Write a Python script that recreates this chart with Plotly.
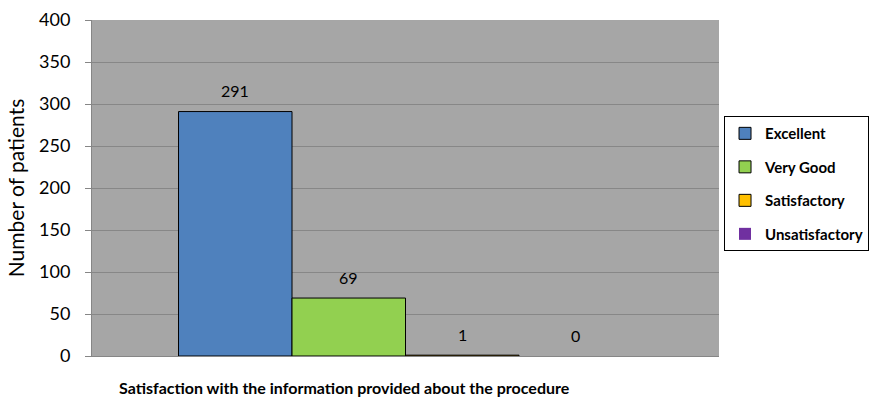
import plotly.graph_objects as go

category = "Satisfaction with the information provided about the procedure"
series_names = ["Excellent", "Very Good", "Satisfactory", "Unsatisfactory"]
values = [291, 69, 1, 0]
colors = ["#4F81BD", "#92D050", "#FFC000", "#7030A0"]
y_ticks = [0, 50, 100, 150, 200, 250, 300, 350, 400]

FONT = "Lato, 'Open Sans', 'DejaVu Sans', sans-serif"
bargap = 0.276
n = len(values)
bw = (1 - bargap) / n

fig = go.Figure()
for i, (name, v, c) in enumerate(zip(series_names, values, colors)):
    fig.add_trace(go.Bar(
        x=[0], y=[v], name=name,
        marker=dict(color=c, line=dict(color="black", width=1 if v > 0 else 0)),
        legendgroup=name,
    ))
    fig.add_annotation(
        x=-(1 - bargap) / 2 + bw * (i + 0.5), y=v, xref="x", yref="y",
        text=str(v), showarrow=False, yshift=21,
        font=dict(family=FONT, size=16, color="black"),
    )

fig.add_annotation(
    x=0.403, y=-0.06, xref="paper", yref="paper", yanchor="top",
    text="<b>" + category + "</b>", showarrow=False,
    font=dict(family=FONT, size=16, color="black"),
)

fig.update_layout(
    width=872, height=399,
    margin=dict(l=92, r=153, t=20, b=43, autoexpand=False),
    paper_bgcolor="white", plot_bgcolor="#A6A6A6",
    barmode="group", bargap=bargap, bargroupgap=0,
    showlegend=True,
    legend=dict(
        x=1.008, y=0.714, xanchor="left", yanchor="top",
        bordercolor="black", borderwidth=1, bgcolor="white",
        font=dict(family=FONT, size=15, color="black", weight="bold"),
        tracegroupgap=11, itemwidth=30,
    ),
    font=dict(family=FONT, color="black"),
)
fig.update_xaxes(
    range=[-0.5, 0.5], showticklabels=False, showgrid=False,
    showline=True, linecolor="#868686", linewidth=1, zeroline=False,
)
fig.update_yaxes(
    range=[0, 400], tickvals=y_ticks, showgrid=True, gridcolor="#878787", gridwidth=1,
    showline=True, linecolor="#868686", ticks="outside", ticklen=6, tickcolor="#868686",
    ticklabelstandoff=11,
    zeroline=False, tickfont=dict(family=FONT, size=18, color="black"),
    title=dict(text="Number of patients", font=dict(family=FONT, size=21, color="black"), standoff=8),
)

fig.write_html("out.html")
